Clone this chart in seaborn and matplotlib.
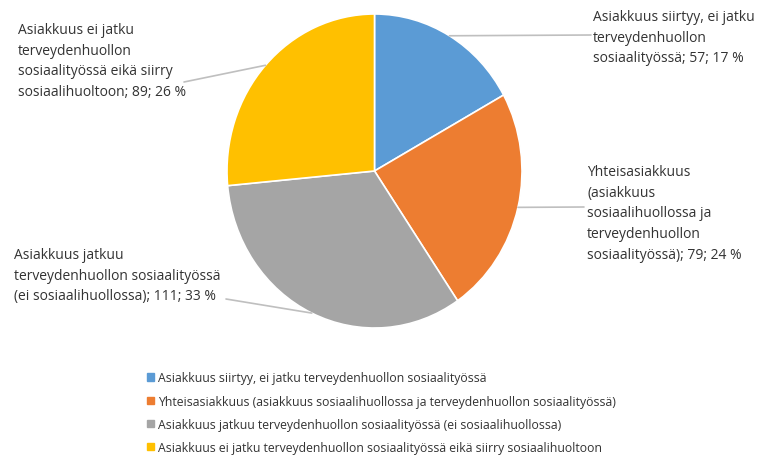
"""
Piirakkakaavio: asiakkuuden jatkuminen
"""
import numpy as np
import matplotlib
matplotlib.use('Agg')
import matplotlib.pyplot as plt
import matplotlib.patches as mpatches
import seaborn as sns

# Data
categories = [
    'Asiakkuus siirtyy, ei jatku terveydenhuollon sosiaalityössä',
    'Yhteisasiakkuus (asiakkuus sosiaalihuollossa ja terveydenhuollon sosiaalityössä)',
    'Asiakkuus jatkuu terveydenhuollon sosiaalityössä (ei sosiaalihuollossa)',
    'Asiakkuus ei jatku terveydenhuollon sosiaalityössä eikä siirry sosiaalihuoltoon',
]
counts = [57, 79, 111, 89]
percents = [17, 24, 33, 26]
label_texts = [
    'Asiakkuus siirtyy, ei jatku\nterveydenhuollon\nsosiaalityössä',
    'Yhteisasiakkuus\n(asiakkuus\nsosiaalihuollossa ja\nterveydenhuollon\nsosiaalityössä)',
    'Asiakkuus jatkuu\nterveydenhuollon sosiaalityössä\n(ei sosiaalihuollossa)',
    'Asiakkuus ei jatku\nterveydenhuollon\nsosiaalityössä eikä siirry\nsosiaalihuoltoon',
]
colors = ['#5B9BD5', '#ED7D31', '#A5A5A5', '#FFC000']

sns.set_theme(style='white')
plt.rcParams['font.family'] = ['Open Sans', 'DejaVu Sans']
TXT = '#333333'
FS_LAB = 10
FS_LEG = 8.8

W, H = 758, 456
fig = plt.figure(figsize=(W / 100, H / 100), dpi=100)

# Piirakka on alkuperäisessä hieman pystysuuntaan venynyt
cx, cy, rx, ry = 374.5, 172, 147.5, 157
ax = fig.add_axes([(cx - rx) / W, (H - cy - ry) / H, 2 * rx / W, 2 * ry / H])
wedges, _ = ax.pie(counts, colors=colors, startangle=90, counterclock=False,
                   radius=1.0, wedgeprops=dict(edgecolor='white', linewidth=1.2))
ax.set_xlim(-1, 1)
ax.set_ylim(-1, 1)
ax.set_aspect('auto')
ax.axis('off')

# Selitteiden paikat (tekstin vasen yläkulma, viivan pää) ylhäältä mitattuna
text_pos = [(593, 10), (587, 165), (14, 248), (18, 23)]
line_end = [(591, 36), (584, 208), (226, 300), (184, 83)]

for i, w in enumerate(wedges):
    ang = np.deg2rad((w.theta1 + w.theta2) / 2)
    xy = (np.cos(ang), np.sin(ang))
    ex, ey = line_end[i]
    ax.annotate('', xy=xy, xycoords='data', xytext=(ex, H - ey),
                textcoords='figure pixels',
                arrowprops=dict(arrowstyle='-', color='#BFBFBF', lw=1.2,
                                shrinkA=0, shrinkB=0))
    tx, ty = text_pos[i]
    fig.text(tx / W, 1 - ty / H,
             f'{label_texts[i]}; {counts[i]}; {percents[i]} %',
             ha='left', va='top', fontsize=FS_LAB, color=TXT, linespacing=1.52)

# Selite
handles = [mpatches.Patch(color=c, label=l) for c, l in zip(colors, categories)]
leg = fig.legend(handles=handles, loc='upper left',
                 bbox_to_anchor=(142 / W, 1 - 367.5 / H), frameon=False,
                 fontsize=FS_LEG, handlelength=0.55, handleheight=0.55,
                 handletextpad=0.4, labelspacing=0.83, borderaxespad=0)
for t in leg.get_texts():
    t.set_color(TXT)

plt.savefig('out.png', dpi=100)
